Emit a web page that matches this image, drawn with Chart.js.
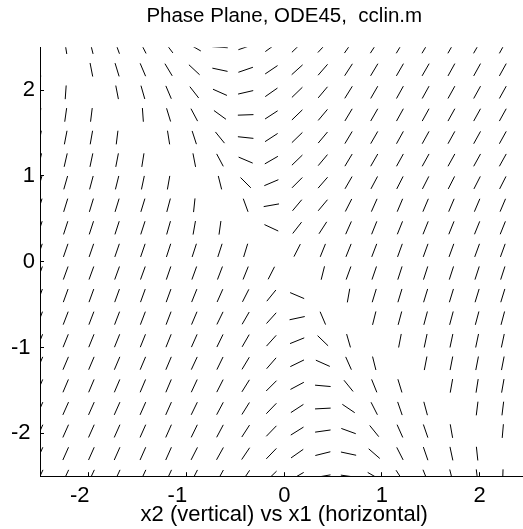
<!DOCTYPE html>
<html>
<head>
<meta charset="utf-8">
<script src="https://cdn.jsdelivr.net/npm/chart.js@4.4.1/dist/chart.umd.min.js"></script>
<style>
  html, body { margin: 0; padding: 0; background: #fff; overflow: hidden; }
</style>
</head>
<body>
<canvas id="phaseChart" width="529" height="529"></canvas>
<script>
// sample points of the direction field (x1 across, x2 from top to bottom)
var x1Grid = [-2.5, -2.237, -1.974, -1.711, -1.447, -1.184, -0.921, -0.658, -0.395, -0.132,
              0.132, 0.395, 0.658, 0.921, 1.184, 1.447, 1.711, 1.974, 2.237, 2.5];
var x2Grid = [2.5, 2.237, 1.974, 1.711, 1.447, 1.184, 0.921, 0.658, 0.395, 0.132,
              -0.132, -0.395, -0.658, -0.921, -1.184, -1.447, -1.711, -1.974, -2.237, -2.5];

// slope of each little segment in degrees, one row per x2 value; null = no segment
var slopeDeg = [
  [null, -81, -76, -70, -63, -53, -30,  -4,  19,  36,  44,  47,  55,  57,  59,  59,  60,  60,  61,  61],
  [ -84, null, -79, -73, -67, -59, -43, -12,  19,  34,  42,  49,  57,  59,  60,  60,  61,  61,  61,  61],
  [  87,  86, null, -79, -74, -67, -52, -24,  13,  35,  44,  50,  58,  60,  61,  61,  61,  61,  61,  61],
  [  83,  82,  83, null, -86, -73, -62, -36,   2,  33,  44,  50,  59,  60,  61,  61,  61,  61,  61,  61],
  [  79,  79,  80,  83, null, -81, -72, -51,  -6,  33,  44,  50,  59,  60,  61,  61,  61,  61,  61,  61],
  [  77,  77,  78,  79,  81, null, -79, -62, -23,  30,  44,  50,  59,  60,  61,  61,  61,  61,  61,  61],
  [  74,  74,  75,  76,  78,  80, null, -76, -45,  23,  45,  49,  60,  62,  63,  63,  63,  63,  63,  63],
  [  73,  73,  73,  73,  73,  75,  84, null, -70,  10,  50,  50,  63,  66,  67,  67,  67,  67,  67,  67],
  [  72,  72,  72,  72,  72,  74,  80,  82, null, -25,  52,  57,  66,  68,  68,  68,  68,  68,  68,  68],
  [  71,  71,  71,  71,  71,  72,  72,  72,  73, null,  63,  68,  68,  69,  70,  70,  70,  70,  70,  70],
  [  70,  70,  70,  70,  70,  71,  70,  69,  68,  63, null,  76,  70,  71,  72,  72,  72,  72,  72,  72],
  [  70,  70,  70,  70,  70,  70,  68,  66,  63,  51, -23, null,  80,  73,  73,  73,  73,  73,  73,  73],
  [  69,  69,  69,  69,  69,  69,  67,  64,  60,  48,  12, -67, null,  76,  75,  75,  75,  75,  75,  75],
  [  68,  68,  68,  68,  68,  68,  66,  64,  60,  48,  22, -44, -74, null,  79,  78,  78,  78,  78,  78],
  [  67,  67,  67,  67,  67,  67,  65,  64,  59,  49,  26, -24, -66, -76, null,  79,  79,  79,  79,  79],
  [  67,  67,  67,  67,  67,  67,  65,  63,  58,  45,  28,  -5, -51, -68, -73, null,  80,  81,  80,  80],
  [  66,  66,  66,  66,  66,  66,  64,  62,  58,  46,  33,   3, -34, -63, -71, -75, null,  83,  83,  83],
  [  66,  66,  66,  66,  66,  66,  64,  62,  57,  46,  32,   8, -20, -51, -66, -71, -80, null,  85,  85],
  [  66,  66,  66,  66,  66,  66,  63,  61,  56,  46,  35,  14, -12, -41, -63, -71, -78, -84, null,  88],
  [  65,  65,  65,  65,  65,  65,  63,  61,  56,  44,  30,  10,  -8, -30, -57, -68, -76, -83,  88, null]
];

var xTicks = [-2, -1, 0, 1, 2];
var yTicks = [-2, -1, 0, 1, 2];
// negative labels carry trailing space so the digit sits by its tick
var xTickText = ['-2   ', '-1   ', '0', '1', '2'];
var yTickText = ['-2\u2009', '-1\u2009', '0', '1', '2'];

var HALF_LEN = 0.08;   // half segment length, data units
var FONT = "'Liberation Sans', Arial, Helvetica, sans-serif";

// turn the slope table into line pieces; kx/ky are pixels per unit on each axis
function buildSegments(kx, ky) {
    var pts = [];
    x2Grid.forEach(function (y, j) {
        x1Grid.forEach(function (x, i) {
            var a = slopeDeg[j][i];
            if (a === null) return;
            var r = a * Math.PI / 180;
            var dx = Math.cos(r) / kx, dy = Math.sin(r) / ky;
            var n = Math.sqrt(dx * dx + dy * dy);
            dx = dx / n * HALF_LEN;
            dy = dy / n * HALF_LEN;
            pts.push({x: x - dx, y: y - dy}, {x: x + dx, y: y + dy}, {x: x, y: null});
        });
    });
    return pts;
}

var axisStyle = {
    grid: {drawOnChartArea: false, drawTicks: true, tickLength: -4, color: '#000', lineWidth: 1},
    border: {display: true, color: '#000', width: 1}
};

var ctx = document.getElementById('phaseChart').getContext('2d');
var chart = new Chart(ctx, {
    type: 'line',
    data: {
        datasets: [{
            data: [],
            borderColor: '#000',
            borderWidth: 1,
            pointRadius: 0,
            spanGaps: false,
            tension: 0,
            fill: false
        }]
    },
    options: {
        responsive: false,
        animation: false,
        devicePixelRatio: 1,
        events: [],
        layout: {padding: 0},
        plugins: {
            legend: {display: false},
            tooltip: {enabled: false},
            title: {
                display: true,
                text: 'Phase Plane, ODE45,  cclin.m',
                color: '#000',
                fullSize: false,
                font: {family: FONT, size: 20.5, weight: 'normal', lineHeight: 1.2},
                padding: {top: 4.5, bottom: 18.1}
            }
        },
        scales: {
            x: {
                type: 'linear',
                min: -2.5,
                max: 2.5,
                afterFit: function (s) { s.height = 52.8; },
                afterBuildTicks: function (s) { s.ticks = xTicks.map(function (v) { return {value: v}; }); },
                grid: axisStyle.grid,
                border: axisStyle.border,
                ticks: {
                    padding: 10.1,
                    color: '#000',
                    maxRotation: 0,
                    font: {family: FONT, size: 22},
                    callback: function (v, i) { return xTickText[i]; }
                },
                title: {
                    display: true,
                    text: 'x2 (vertical) vs x1 (horizontal)',
                    color: '#000',
                    font: {family: FONT, size: 22, lineHeight: 1},
                    padding: {top: 0, bottom: 3}
                }
            },
            y: {
                type: 'linear',
                min: -2.5,
                max: 2.5,
                afterFit: function (s) { s.width = 40; },
                afterBuildTicks: function (s) { s.ticks = yTicks.map(function (v) { return {value: v}; }); },
                grid: axisStyle.grid,
                border: axisStyle.border,
                ticks: {
                    padding: 9,
                    color: '#000',
                    font: {family: FONT, size: 22},
                    callback: function (v, i) { return yTickText[i]; }
                }
            }
        }
    }
});

// segment directions depend on the pixel size of a unit on each axis
var xs = chart.scales.x, ys = chart.scales.y;
var kx = Math.abs(xs.getPixelForValue(1) - xs.getPixelForValue(0));
var ky = Math.abs(ys.getPixelForValue(1) - ys.getPixelForValue(0));
chart.data.datasets[0].data = buildSegments(kx, ky);
chart.update('none');
</script>
</body>
</html>
